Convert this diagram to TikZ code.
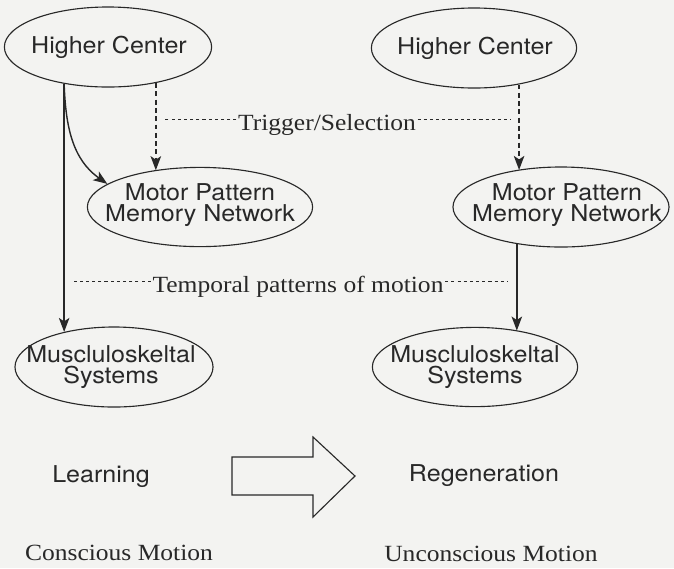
\documentclass[tikz,border=0pt]{standalone}
\usepackage{fontspec}
\usepackage{tikz}
\usetikzlibrary{shapes.geometric, arrows.meta, positioning}
\newfontfamily\helv[FakeStretch=1.08]{TeX Gyre Heros}
\newfontfamily\tms[FakeStretch=1.1]{Liberation Serif}
\definecolor{paper}{RGB}{243,243,241}
\definecolor{ink}{RGB}{40,40,40}

\begin{document}
\begin{tikzpicture}[
    x=0.025cm, y=-0.025cm,
    module/.style={
        ellipse,
        draw=ink,
        line width=0.8pt,
        minimum height=2cm,
        inner sep=0pt
    },
    title/.style={font=\helv\fontsize{16.5}{15.5}\selectfont, text=ink, align=center, inner sep=0pt},
    remark/.style={font=\tms\fontsize{16.5}{18}\selectfont, text=ink, inner sep=1pt},
    flow/.style={draw=ink, line width=1pt, -{Stealth[length=10pt, width=7.5pt, inset=2.5pt]}},
    cue/.style={flow, dash pattern=on 3.5pt off 2.4pt},
    guide/.style={draw=ink, line width=0.5pt, dash pattern=on 2.2pt off 2.2pt}
]

% background and page size
\fill[paper] (0,0) rectangle (674,568);

% the ellipses, left = learning, right = regeneration
\node[module, minimum width=5.18cm] (hc1) at (108,47) {};
\node[module, minimum width=5.13cm] (hc2) at (474,48) {};
\node[module, minimum width=5.63cm, minimum height=1.98cm] (mp1) at (200,207) {};
\node[module, minimum width=5.4cm] (mp2) at (561,207) {};
\node[module, minimum width=4.95cm] (ms1) at (114,367) {};
\node[module, minimum width=5.13cm, minimum height=1.98cm] (ms2) at (475,367) {};

% their texts
\node[title] (hc1txt) at (109,47) {Higher Center};
\node[title] (hc2txt) at (475,48) {Higher Center};
\node[title] (mp1txt) at (200,205) {Motor Pattern\\Memory Network};
\node[title] (mp2txt) at (567,205) {Motor Pattern\\Memory Network};
\node[title] (ms1txt) at (111,367) {Muscluloskeltal\\Systems};
\node[title] (ms2txt) at (475,367) {Muscluloskeltal\\Systems};

% arrows
\draw[flow] (hc1.220) -- (hc1.220 |- ms1.145);
\draw[flow] (hc1.220) to[out=-88, in=145] (mp1.166);
\draw[cue] (hc1.323) -- (hc1.323 |- mp1.141);
\draw[cue] (hc2.321) -- (hc2.321 |- mp2.140);
\draw[flow] (mp2.220) -- (mp2.220 |- ms2.40);

% dotted labels
\node[remark, text height=15pt, text depth=0pt] (trig) at (327,119.5) {Trigger/Selection};
\draw[guide] (trig.west) -- ([xshift=6pt]trig.west -| hc1.323);
\draw[guide] (trig.east) -- ([xshift=-6pt]trig.east -| hc2.321);
\node[remark, text height=15pt, text depth=0pt] (temp) at (298,281.5) {Temporal patterns of motion};
\draw[guide] (temp.west) -- ([xshift=6pt]temp.west -| hc1.220);
\draw[guide] (temp.east) -- ([xshift=-6pt]temp.east -| mp2.220);

% bottom part
\node[title] (learn) at (101,477) {Learning};
\node[title] (regen) at (484,476) {Regeneration};
\draw[ink, line width=0.8pt] (232,457) -- (313,457) -- (313,437) -- (355,476) -- (313,517) -- (313,495) -- (232,495) -- cycle;
\node[remark] (consc) at (119,553) {Conscious Motion};
\node[remark] (uncon) at (491,554) {Unconscious Motion};

\end{tikzpicture}
\end{document}
